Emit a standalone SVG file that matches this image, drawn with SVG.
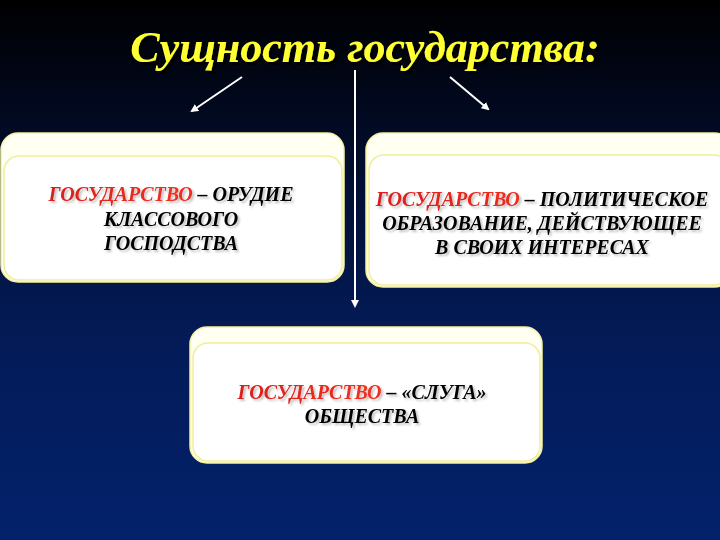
<svg xmlns="http://www.w3.org/2000/svg" width="720" height="540" viewBox="0 0 720 540">
<defs>
<linearGradient id="bg" x1="0" y1="0" x2="0" y2="1">
<stop offset="0" stop-color="#000000"/>
<stop offset="0.25" stop-color="#020b26"/>
<stop offset="0.6" stop-color="#031a55"/>
<stop offset="1" stop-color="#03226c"/>
</linearGradient>
<linearGradient id="red" x1="0" y1="0" x2="1" y2="0">
<stop offset="0" stop-color="#d81e1e"/>
<stop offset="0.5" stop-color="#f03020"/>
<stop offset="1" stop-color="#e02a2a"/>
</linearGradient>
<filter id="sh" x="-5%" y="-20%" width="110%" height="150%">
<feDropShadow dx="2" dy="2" stdDeviation="1" flood-color="#000" flood-opacity="0.25"/>
</filter>
<filter id="tsh" x="-5%" y="-20%" width="110%" height="150%">
<feDropShadow dx="3" dy="3" stdDeviation="0.5" flood-color="#000" flood-opacity="0.9"/>
</filter>
<marker id="ah" markerWidth="8" markerHeight="8" refX="6" refY="4" orient="auto" markerUnits="userSpaceOnUse">
<path d="M0,0 L8,4 L0,8 Z" fill="#ffffff"/>
</marker>
</defs>
<style>
.outer{fill:#fffff2;stroke:#f4f2a0;stroke-width:1.5}
.inner{fill:#ffffff;stroke:#f0ee9a;stroke-width:1.5}
.t{font-family:"Liberation Serif","Times New Roman",serif;font-weight:bold;font-style:italic;font-size:20px;text-anchor:middle;fill:#000}
.r{fill:url(#red)}
.title{font-family:"Liberation Serif","Times New Roman",serif;font-weight:bold;font-style:italic;font-size:44px;text-anchor:middle;fill:#ffff33}
.c{stroke:#ffffff;stroke-width:2;fill:none;marker-end:url(#ah)}
</style>
<rect x="0" y="0" width="720" height="540" fill="url(#bg)"/>
<g id="title">
<text class="title" x="365" y="62" filter="url(#tsh)">Сущность государства:</text>
</g>
<g id="connectors">
<line class="c" x1="242" y1="77" x2="192" y2="111"/>
<line class="c" x1="450" y1="77" x2="488" y2="109"/>
<line class="c" x1="355" y1="70" x2="355" y2="306"/>
</g>
<g id="node-left">
<rect class="outer" x="1" y="133" width="343" height="149" rx="17"/>
<rect class="inner" x="4" y="156" width="338" height="124" rx="15"/>
<text class="t" x="171" y="201" filter="url(#sh)"><tspan class="r">ГОСУДАРСТВО</tspan> – ОРУДИЕ</text>
<text class="t" x="171" y="226" filter="url(#sh)">КЛАССОВОГО</text>
<text class="t" x="171" y="250" filter="url(#sh)">ГОСПОДСТВА</text>
</g>
<g id="node-right">
<rect class="outer" x="366" y="133" width="366" height="154" rx="17"/>
<rect class="inner" x="369" y="155" width="360" height="130" rx="15"/>
<text class="t" x="542" y="206" filter="url(#sh)"><tspan class="r">ГОСУДАРСТВО</tspan> – ПОЛИТИЧЕСКОЕ</text>
<text class="t" x="542" y="230" filter="url(#sh)">ОБРАЗОВАНИЕ, ДЕЙСТВУЮЩЕЕ</text>
<text class="t" x="542" y="254" filter="url(#sh)">В СВОИХ ИНТЕРЕСАХ</text>
</g>
<g id="node-bottom">
<rect class="outer" x="190" y="327" width="352" height="136" rx="17"/>
<rect class="inner" x="193" y="343" width="347" height="118" rx="15"/>
<text class="t" x="362" y="399" filter="url(#sh)"><tspan class="r">ГОСУДАРСТВО</tspan> – «СЛУГА»</text>
<text class="t" x="362" y="423" filter="url(#sh)">ОБЩЕСТВА</text>
</g>
</svg>
